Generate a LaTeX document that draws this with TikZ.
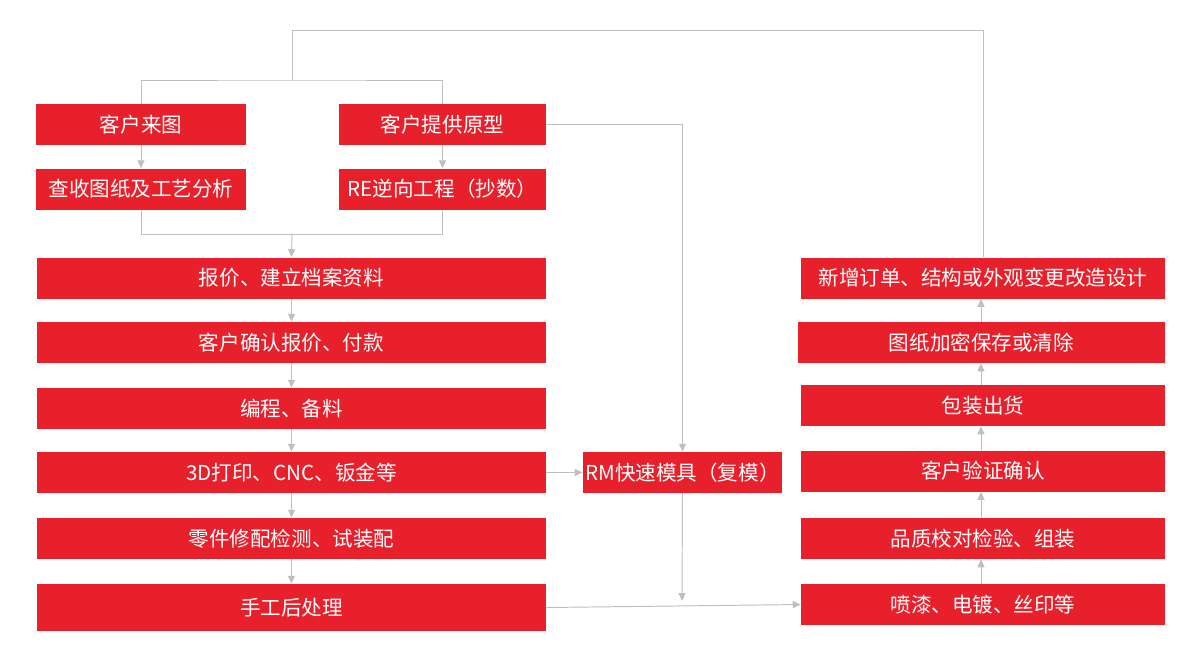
\documentclass[tikz,border=0pt]{standalone}
\usepackage{fontspec}
\setmainfont{Noto Sans CJK SC}
\usetikzlibrary{arrows.meta}
\definecolor{boxred}{RGB}{232,32,44}
\definecolor{linegray}{RGB}{191,191,191}
\begin{document}
\begin{tikzpicture}[x=0.2mm,y=-0.2mm]
  \tikzset{red box/.style={fill=boxred, draw=none, text=white, inner sep=0pt,
      minimum height=8.2mm, font=\fontsize{11.7}{14}\selectfont},
    wide box/.style={red box, minimum width=101.8mm},
    half box/.style={red box, minimum width=42mm},
    side box/.style={red box, minimum width=72.8mm},
    link/.style={draw=linegray, line width=0.55pt},
    flow/.style={link, -{Triangle[width=4pt,length=4.5pt]}}}
  \useasboundingbox (0,0) rectangle (1200,657);
  % upper pair of boxes
  \node[half box] (drawing) at (141,124.5) {客户来图};
  \node[half box] (check) at (141,189) {查收图纸及工艺分析};
  \node[half box, minimum width=41.4mm] (sample) at (442.5,124.5) {客户提供原型};
  \node[half box, minimum width=41.4mm] (reverse) at (442.5,189) {RE逆向工程（抄数）};
  % main column
  \node[wide box] (quote) at (291.5,278) {报价、建立档案资料};
  \node[wide box] (confirm) at (291.5,342.5) {客户确认报价、付款};
  \node[wide box] (program) at (291.5,408.5) {编程、备料};
  \node[wide box] (print) at (291.5,472.5) {3D打印、CNC、钣金等};
  \node[wide box] (repair) at (291.5,538.5) {零件修配检测、试装配};
  \node[wide box, minimum height=9.4mm] (manual) at (291.5,607.5) {手工后处理};
  \node[red box, minimum width=39.8mm] (mould) at (682.5,472.5) {RM快速模具（复模）};
  % right column
  \node[side box] (order) at (983,278) {新增订单、结构或外观变更改造设计};
  \node[side box, minimum width=73.4mm] (secure) at (981.5,342.5) {图纸加密保存或清除};
  \node[side box] (ship) at (983,405.5) {包装出货};
  \node[side box] (verify) at (983,471) {客户验证确认};
  \node[side box] (inspect) at (983,538.5) {品质校对检验、组装};
  \node[side box] (paint) at (983,604.5) {喷漆、电镀、丝印等};
  % feedback loop and splits
  \coordinate (split) at (292,80);
  \coordinate (merge) at (292,234);
  \coordinate (mouldend) at (682,601);
  \draw[link] (order.north) |- (292,30) -- (split);
  \draw[link] (drawing.north) |- (split) -| (sample.north);
  \draw[link] (check.south) |- (merge) -| (reverse.south);
  \draw[flow] (drawing) -- (check);
  \draw[flow] (sample) -- (reverse);
  \draw[flow] (merge) -- (quote.north);
  \foreach \a/\b in {quote/confirm,confirm/program,program/print,print/repair,repair/manual}
    \draw[flow] (\a) -- (\b);
  \draw[flow] (sample.east) -| (mould.north);
  \draw[flow] (print.east) -- (mould.west);
  \draw[flow] (mould.south) -- (mouldend);
  \draw[flow] (manual.east) -- (paint.west);
  \foreach \a/\b in {paint/inspect,inspect/verify,verify/ship,ship/secure,secure/order}
    \draw[flow] (\a.north -| 981,0) -- (\b.south -| 981,0);
\end{tikzpicture}
\end{document}
